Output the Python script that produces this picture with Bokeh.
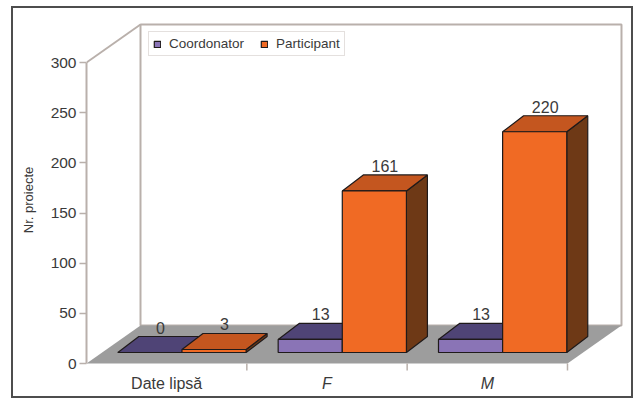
import numpy as np
from bokeh.plotting import figure
from bokeh.models import (Range1d, FixedTicker, ColumnDataSource, Legend,
                          LegendItem)
from bokeh.core.properties import value
from bokeh.embed import file_html
from bokeh.resources import INLINE

# ---------------- data ----------------
categories = ["Date lipsă", "F", "M"]
coordonator = [0, 13, 13]
participant = [3, 161, 220]
series_names = ["Coordonator", "Participant"]
y_ticks = [0, 50, 100, 150, 200, 250, 300]
y_max = 300
y_title = "Nr. proiecte"

# ---------------- styles ----------------
cat_font_styles = ["normal", "italic", "italic"]
FONT = "Liberation Sans"
TXT = "#3a3a3a"
WALL = "#b9b0ab"
FLOOR = "#9d9d9d"
EDGE = "#1f1a1a"
BORDER = "#4d4d4d"
face_colors = [
    dict(front="#8a74b6", top="#4f4476", side="#3a3158"),
    dict(front="#f06a24", top="#c4561f", side="#6e3916"),
]

W, H = 635, 399
FRAME_LEFT = 86          # px from canvas left to the front y-axis
BASE = 363               # px of value 0 on the front plane
PX_X = 160.33            # px per category
PX_Y = 301.0 / 300.0     # px per value unit

def dxu(px):
    return px / PX_X

def dyu(px):
    return px / PX_Y

# depth offsets (oblique projection)
wall_dx, wall_dy = dxu(54), dyu(38)
bar_fdx, bar_fdy = dxu(15.3), dyu(11)
bar_bdx, bar_bdy = dxu(36.3), dyu(27)
bar_w, bar_gap = 0.4, 0.1
n = len(categories)

p = figure(width=W, height=H, output_backend="svg", toolbar_location=None,
           x_axis_type=None, min_border=0, min_border_left=FRAME_LEFT,
           x_range=Range1d(0, dxu(W - FRAME_LEFT)),
           y_range=Range1d(-dyu(H - BASE), dyu(BASE)),
           background_fill_color=None, border_fill_color=None)
p.outline_line_color = None
p.grid.visible = False
# thin picture frame drawn as page background behind the transparent canvas
g = f"linear-gradient({BORDER},{BORDER})"
p.styles = {
    "background": (f"{g} 11px 7px / 2px 391px no-repeat, "
                   f"{g} 11px 6px / 622px 2px no-repeat, "
                   f"{g} 631px 7px / 2px 391px no-repeat, "
                   f"{g} 11px 396px / 622px 2px no-repeat, white"),
}

# back wall
p.quad(left=[wall_dx], right=[n + wall_dx], bottom=[wall_dy], top=[y_max + wall_dy],
       fill_color="white", line_color=WALL, line_width=2)
# left wall top edge
p.segment(x0=[0], y0=[y_max], x1=[wall_dx], y1=[y_max + wall_dy],
          line_color=WALL, line_width=2)
# floor
p.patch(x=[0, n, n + wall_dx, wall_dx], y=[0, 0, wall_dy, wall_dy],
        fill_color=FLOOR, line_color=None)
# category boundary ticks
cb = np.arange(1, n + 1)
p.segment(x0=cb, y0=np.zeros(n), x1=cb, y1=np.full(n, -dyu(7)),
          line_color=WALL, line_width=1.5)

# bars
front_renderers = []
ddx, ddy = bar_bdx - bar_fdx, bar_bdy - bar_fdy
for j, vals in enumerate([coordonator, participant]):
    v = np.array(vals, dtype=float)
    xl = np.arange(n) + bar_gap + j * bar_w + bar_fdx
    xr = xl + bar_w
    c = face_colors[j]
    side_xs = [[r, r + ddx, r + ddx, r] for r in xr]
    side_ys = [[bar_fdy, bar_bdy, vv + bar_bdy, vv + bar_fdy] for vv in v]
    p.patches(xs=side_xs, ys=side_ys, fill_color=c["side"], line_color=EDGE, line_width=1.2)
    top_xs = [[l, r, r + ddx, l + ddx] for l, r in zip(xl, xr)]
    top_ys = [[vv + bar_fdy, vv + bar_fdy, vv + bar_bdy, vv + bar_bdy] for vv in v]
    p.patches(xs=top_xs, ys=top_ys, fill_color=c["top"], line_color=EDGE, line_width=1.2)
    fr = p.quad(left=xl, right=xr, bottom=np.full(n, bar_fdy), top=v + bar_fdy,
                fill_color=c["front"], line_color=EDGE, line_width=1.2)
    front_renderers.append(fr)
    # value labels
    lab = ColumnDataSource(dict(
        x=(xl + xr) / 2 + (bar_bdx - bar_fdx) / 2,
        y=v + bar_bdy + dyu(9),
        t=[str(int(vv)) for vv in vals]))
    p.text(x="x", y="y", text="t", source=lab, text_font=value(FONT),
           text_font_size=value("16px"), text_color=TXT,
           text_align="center", text_baseline="middle")

# category labels
cat_src = ColumnDataSource(dict(x=np.arange(n) + 0.5, y=np.full(n, -dyu(20)),
                                t=categories, s=cat_font_styles))
p.text(x="x", y="y", text="t", source=cat_src, text_font=value(FONT),
       text_font_size=value("16px"), text_font_style="s", text_color=TXT,
       text_align="center", text_baseline="middle")

# y axis
ax = p.yaxis[0]
ax.ticker = FixedTicker(ticks=y_ticks)
ax.bounds = (0, y_max)
ax.axis_line_color = WALL
ax.axis_line_width = 2
ax.major_tick_line_color = WALL
ax.major_tick_line_width = 1.5
ax.major_tick_in = 0
ax.major_tick_out = 7
ax.minor_tick_line_color = None
ax.major_label_standoff = 3
ax.major_label_text_font = FONT
ax.major_label_text_font_size = "15.5px"
ax.major_label_text_color = TXT
ax.axis_label = y_title
ax.axis_label_text_font = FONT
ax.axis_label_text_font_size = "13px"
ax.axis_label_text_font_style = "normal"
ax.axis_label_text_color = TXT
ax.axis_label_standoff = 12

# legend
legend = Legend(items=[LegendItem(label=series_names[k], renderers=[front_renderers[k]])
                       for k in range(2)],
                location=(62, 343), orientation="horizontal",
                glyph_width=8, glyph_height=8, label_standoff=8, spacing=16,
                padding=4, label_height=15, label_text_font=FONT,
                label_text_font_size="13.5px", label_text_color=TXT,
                border_line_color="#c9c1bd", border_line_width=1.5,
                background_fill_color="white", background_fill_alpha=1)
p.add_layout(legend)

open("out.html", "w").write(file_html(p, INLINE))
